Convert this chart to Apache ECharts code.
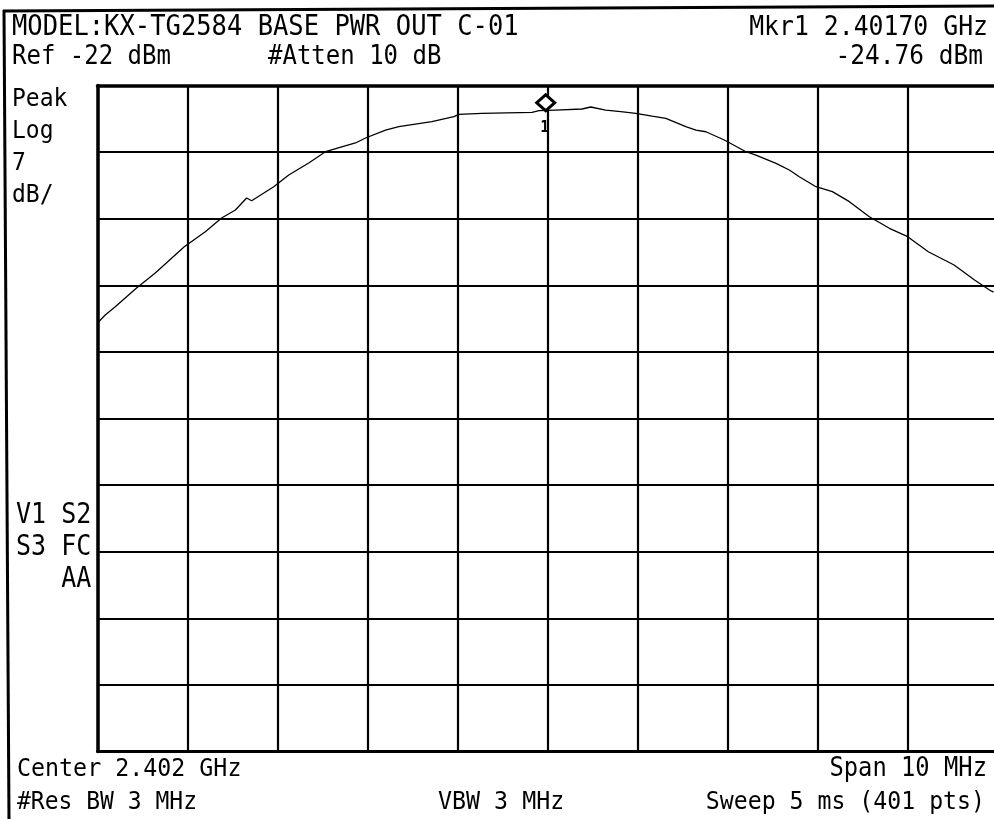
<!DOCTYPE html>
<html>
<head>
<meta charset="utf-8">
<script src="https://cdn.jsdelivr.net/npm/echarts@6/dist/echarts.min.js"></script>
<style>
html,body{margin:0;padding:0;background:#fff;}
#c{width:994px;height:819px;}
</style>
</head>
<body>
<div id="c"></div>
<script>
// Sweep settings
var refLevel = -22;        // dBm, top graticule
var dbPerDiv = 7;
var numDivs = 10;
var startMHz = 2397;
var stopMHz = 2407;

// Trace (frequency in MHz, level in dBm)
var freqMHz = [2397.000, 2397.086, 2397.197, 2397.434, 2397.642, 2397.964, 2398.198, 2398.379, 2398.532, 2398.657,
  2398.713, 2398.958, 2399.125, 2399.347, 2399.533, 2399.866, 2399.978, 2400.200, 2400.348, 2400.715,
  2400.960, 2401.016, 2401.271, 2401.828, 2401.905, 2402.091, 2402.384, 2402.480, 2402.647, 2402.814,
  2402.981, 2403.162, 2403.315, 2403.537, 2403.649, 2403.760, 2403.964, 2404.205, 2404.316, 2404.539,
  2404.687, 2404.798, 2404.983, 2405.165, 2405.354, 2405.576, 2405.799, 2406.002, 2406.231, 2406.518,
  2406.745, 2406.911, 2406.956];
var levelDbm = [-46.96, -46.12, -45.25, -43.28, -41.71, -38.94, -37.37, -35.93, -35.09, -33.82,
  -34.11, -32.64, -31.41, -30.15, -28.96, -28.04, -27.52, -26.68, -26.33, -25.80,
  -25.28, -25.03, -24.92, -24.82, -24.65, -24.58, -24.47, -24.26, -24.58, -24.75,
  -24.92, -25.21, -25.45, -26.33, -26.68, -26.86, -27.73, -28.96, -29.31, -30.18,
  -30.88, -31.59, -32.64, -33.16, -34.21, -35.79, -37.01, -37.89, -39.47, -40.87,
  -42.44, -43.49, -43.71];

// Marker 1 (position as drawn)
var markerFreq = 2401.98;
var markerLevel = -24.76;

// Screen annotation texts
var headerLeft = ['MODEL:KX-TG2584 BASE PWR OUT C-01', 'Ref -22 dBm'];
var attenText = '#Atten 10 dB';
var headerRight = ['Mkr1 2.40170 GHz', '-24.76 dBm'];
var sideTop = ['Peak', 'Log', '7', 'dB/'];
var sideBottom = ['V1 S2', 'S3 FC', '   AA'];
var footerLeft = ['Center 2.402 GHz', '#Res BW 3 MHz'];
var footerMid = 'VBW 3 MHz';
var footerRight = ['Span 10 MHz', 'Sweep 5 ms (401 pts)'];

var FONT = '"DejaVu Sans Mono", "Liberation Mono", monospace';

var traceData = freqMHz.map(function (f, i) { return [f, levelDbm[i] - refLevel]; });

function txt(s, x, y, size, align) {
  return {
    type: 'text', x: x, y: y, scaleY: 1.1, silent: true,
    style: { text: s, fontFamily: FONT, fontSize: size, fill: '#000', align: align || 'left', verticalAlign: 'middle' }
  };
}

var graphics = [
  { type: 'line', shape: { x1: 3, y1: 11, x2: 994, y2: 6 }, style: { stroke: '#000', lineWidth: 3 }, silent: true },
  { type: 'line', shape: { x1: 4, y1: 10, x2: 9, y2: 819 }, style: { stroke: '#000', lineWidth: 3 }, silent: true },
  txt(headerLeft[0], 12, 28, 25.5),
  txt(headerLeft[1], 12, 57, 24),
  txt(attenText, 268, 57, 24),
  txt(headerRight[0], 988, 28, 24.8, 'right'),
  txt(headerRight[1], 983, 57, 24.5, 'right'),
  txt(sideTop[0], 12, 99, 23),
  txt(sideTop[1], 12, 131, 23),
  txt(sideTop[2], 12, 163, 23),
  txt(sideTop[3], 12, 195, 23),
  txt(sideBottom[0], 16, 516, 25),
  txt(sideBottom[1], 16, 548, 25),
  txt(sideBottom[2], 16, 580, 25),
  txt(footerLeft[0], 17, 769, 23.3),
  txt(footerLeft[1], 17, 802, 23),
  txt(footerMid, 438, 802, 23.3),
  txt(footerRight[0], 987, 769, 23.8, 'right'),
  txt(footerRight[1], 985, 802, 23.2, 'right')
];

var chart = echarts.init(document.getElementById('c'), null, { renderer: 'canvas' });
chart.setOption({
  backgroundColor: '#fff',
  animation: false,
  grid: { left: 97.5, top: 85.5, width: 900, height: 666, show: false, outerBoundsMode: 'none', containLabel: false },
  xAxis: [{
    type: 'value', min: startMHz, max: stopMHz, interval: (stopMHz - startMHz) / numDivs, position: 'bottom',
    axisLine: { show: true, onZero: false, lineStyle: { color: '#000', width: 3 } }, axisTick: { show: false }, axisLabel: { show: false },
    splitLine: { show: true, lineStyle: { color: '#000', width: 2.2 } }
  }, {
    type: 'value', min: startMHz, max: stopMHz, position: 'top',
    axisLine: { show: true, onZero: false, lineStyle: { color: '#000', width: 3.5 } }, axisTick: { show: false }, axisLabel: { show: false },
    splitLine: { show: false }
  }],
  yAxis: {
    type: 'value', min: -dbPerDiv * numDivs, max: 0, interval: dbPerDiv,
    axisLine: { show: true, onZero: false, lineStyle: { color: '#000', width: 3.5 } }, axisTick: { show: false }, axisLabel: { show: false },
    splitLine: { show: true, lineStyle: { color: '#000', width: 2.2 } }
  },
  series: [{
    type: 'line',
    data: traceData,
    symbol: 'none',
    lineStyle: { color: '#000', width: 1.3 },
    clip: true,
    markPoint: {
      silent: true,
      animation: false,
      data: [
        { coord: [markerFreq, markerLevel - refLevel], symbol: 'diamond', symbolSize: [18, 16], symbolOffset: [0, -9],
          itemStyle: { color: '#fff', borderColor: '#000', borderWidth: 3 }, label: { show: false } },
        { coord: [markerFreq, markerLevel - refLevel], symbol: 'circle', symbolSize: 1,
          itemStyle: { color: 'rgba(0,0,0,0)' },
          label: { show: true, formatter: '1', position: 'inside', offset: [-1, 16], fontSize: 15, fontWeight: 'bold', fontFamily: FONT, color: '#000' } }
      ]
    }
  }],
  graphic: graphics
});
</script>
</body>
</html>
